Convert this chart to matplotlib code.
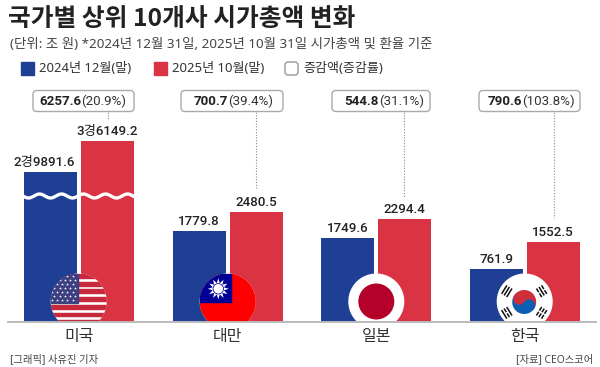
import numpy as np
import matplotlib
matplotlib.use('Agg')
import matplotlib.pyplot as plt
from matplotlib.patches import Circle, Rectangle, Wedge, Polygon, FancyBboxPatch

plt.rcParams['font.family'] = ['Noto Sans', 'Noto Sans CJK KR', 'DejaVu Sans']
NUM_FONT = ['Roboto', 'Noto Sans CJK KR']

countries = ['미국', '대만', '일본', '한국']
cap_2024 = [29891.6, 1779.8, 1749.6, 761.9]
cap_2025 = [36149.2, 2480.5, 2294.4, 1552.5]
delta = [6257.6, 700.7, 544.8, 790.6]
delta_pct = [20.9, 39.4, 31.1, 103.8]

# 원본 막대는 값에 비례하지 않음 - 값과 그려진 높이(px)의 대응
scale_values = [0, 761.9, 1552.5, 1749.6, 1779.8, 2294.4, 2480.5, 29891.6, 36149.2, 45000]
scale_heights = [0, 53, 80, 84, 91, 103, 110, 150, 181, 222]

BLUE = '#1f3f94'
RED = '#d93344'
W, H = 600, 367
BASE = 322
RADIUS = 28


def forward(v):
    return np.interp(v, scale_values, scale_heights)


def inverse(h):
    return np.interp(h, scale_heights, scale_values)


def fmt_value(v):
    if v >= 10000:
        return f'{int(v // 10000)}경{v % 10000:.1f}'
    return f'{v:.1f}'


fig = plt.figure(figsize=(6, 3.67), dpi=100)

# 막대 축
ax = fig.add_axes([0, (H - BASE) / H, 1, 222 / H])
ax.set_yscale('function', functions=(forward, inverse))
ax.set_ylim(0, 45000)
centers = [78.7, 227.7, 376.3, 524.7]
ax.set_xlim(0, W)
ax.axis('off')

bar_w = 53
for i, c in enumerate(centers):
    ax.bar(c - 28.5, cap_2024[i], width=bar_w, color=BLUE)
    ax.bar(c + 28.5, cap_2025[i], width=bar_w, color=RED)
    shift = -6 if i == 0 else 0
    ax.annotate(fmt_value(cap_2024[i]), (c - 28.5 + shift, cap_2024[i]), xytext=(0, 2),
                textcoords='offset points', ha='center', va='bottom', family=NUM_FONT,
                fontsize=9.6, fontweight='medium', color='#222222')
    ax.annotate(fmt_value(cap_2025[i]), (c + 28.5, cap_2025[i]), xytext=(0, 2),
                textcoords='offset points', ha='center', va='bottom', family=NUM_FONT,
                fontsize=9.6, fontweight='medium', color='#222222')

# 픽셀 좌표 오버레이 (제목, 범례, 국기)
ov = fig.add_axes([0, 0, 1, 1], facecolor='none')
ov.set_xlim(0, W)
ov.set_ylim(H, 0)
ov.axis('off')

ov.text(8, 19, '국가별 상위 10개사 시가총액 변화', fontsize=17.8, fontweight='bold',
        family='Noto Sans CJK KR', color='#222222', va='center')
ov.text(10, 44, '(단위: 조 원) *2024년 12월 31일, 2025년 10월 31일 시가총액 및 환율 기준',
        fontsize=9.65, color='#444444', va='center')

# 범례
ov.add_patch(Rectangle((21, 62), 13, 13, color=BLUE))
ov.text(39, 68.5, '2024년 12월(말)', fontsize=9.45, color='#333333', va='center')
ov.add_patch(Rectangle((154, 62), 13, 13, color=RED))
ov.text(172, 68.5, '2025년 10월(말)', fontsize=9.45, color='#333333', va='center')
ov.add_patch(FancyBboxPatch((285, 62), 13, 13, boxstyle='round,pad=0,rounding_size=3',
                            fc='white', ec='#999999', lw=1))
ov.text(303, 68.5, '증감액(증감률)', fontsize=9.4, color='#333333', va='center')

# 증감 박스 + 점선
box_left = [33, 181, 332, 479]
box_right = [134, 283, 430, 580]
text_split = [81, 228, 379, 521.7]
line_x = [107.5, 256, 404, 553.5]
line_end = [120, 188, 197, 218]
for i in range(4):
    ov.plot([line_x[i], line_x[i]], [112, line_end[i]], color='#888888', lw=0.8, ls=(0, (1, 1.5)))
    ov.add_patch(FancyBboxPatch((box_left[i], 90.5), box_right[i] - box_left[i], 21,
                                boxstyle='round,pad=0,rounding_size=4',
                                fc='white', ec='#aaaaaa', lw=1, zorder=3))
    ov.text(text_split[i], 101.5, f'{delta[i]:.1f}', fontsize=9.6, fontweight='bold', family=NUM_FONT,
            color='#222222', ha='right', va='center', zorder=4)
    ov.text(text_split[i], 101.5, f'({delta_pct[i]:.1f}%)', fontsize=9.6, family=NUM_FONT,
            color='#333333', ha='left', va='center', zorder=4)

# 물결 (축 생략 표시)
wx = np.linspace(23, 135, 300)
ov.plot(wx, 196 + 2 * np.sin((wx - 23) * 2 * np.pi / 22), color='white', lw=2.4)

# 기준선
ov.plot([8, 596], [BASE, BASE], color='#bbbbbb', lw=1.4, zorder=6)


def flag_clip(cx):
    t = np.linspace(0, 2 * np.pi, 200)
    cy = BASE - 20.5
    xs = cx + RADIUS * np.cos(t)
    ys = np.minimum(cy + RADIUS * np.sin(t), BASE)
    p = Polygon(np.column_stack([xs, ys]), closed=True, fc='white', ec='none', zorder=4)
    ov.add_patch(p)
    return p, cy


def clipped(artist, clip):
    artist.set_clip_path(clip)
    artist.set_zorder(5)
    return artist


# 미국
cx = centers[0]
clip, cy = flag_clip(cx)
top = cy - RADIUS
for k in range(8):
    ov.add_patch(clipped(Rectangle((cx - RADIUS, top + 0.5 + k * 7.7), 2 * RADIUS, 3.85, color='#c8283c'), clip))
ov.add_patch(clipped(Rectangle((cx - RADIUS, top), RADIUS - 1, 29, color='#3c3f80'), clip))
for r in range(7):
    xs = np.arange(cx - 27 + (r % 2) * 2.6, cx - 1.5, 5.2)
    sc = ov.scatter(xs, np.full_like(xs, top + 2.5 + r * 4), s=4.5, marker='*', color='white', lw=0, zorder=5)
    sc.set_clip_path(clip)

# 대만
cx = centers[1]
clip, cy = flag_clip(cx)
top = cy - RADIUS
ov.add_patch(clipped(Rectangle((cx - RADIUS, top), 2 * RADIUS, 2 * RADIUS, color='#fe0000'), clip))
ov.add_patch(clipped(Rectangle((cx - RADIUS, top), RADIUS + 3.3, 28, color='#000095'), clip))
sun_x, sun_y = cx - 9.4, top + 15.3
ang = np.linspace(0, 2 * np.pi, 24, endpoint=False)
rad = np.where(np.arange(24) % 2 == 0, 10.5, 5.8)
ov.add_patch(Polygon(np.column_stack([sun_x + rad * np.cos(ang), sun_y + rad * np.sin(ang)]),
                     fc='white', ec='none', zorder=5))
ov.add_patch(Circle((sun_x, sun_y), 5.6, fc='#000095', ec='none', zorder=5))
ov.add_patch(Circle((sun_x, sun_y), 4.8, fc='white', ec='none', zorder=5))

# 일본
cx = centers[2]
clip, cy = flag_clip(cx)
ov.add_patch(clipped(Circle((cx, cy), 18, fc='#b5002a', ec='none'), clip))

# 한국
cx = centers[3]
clip, cy = flag_clip(cx)
tc = (cx - 0.5, cy + 0.5)
ov.add_patch(Wedge(tc, 12, 213.7, 393.7, fc='#cd2e3a', ec='none', zorder=5))
ov.add_patch(Wedge(tc, 12, 33.7, 213.7, fc='#0a5fb4', ec='none', zorder=5))
lx, ly = 6 * np.cos(np.radians(33.7)), 6 * np.sin(np.radians(33.7))
ov.add_patch(Circle((tc[0] - lx, tc[1] - ly), 6, fc='#cd2e3a', ec='none', zorder=5))
ov.add_patch(Circle((tc[0] + lx, tc[1] + ly), 6, fc='#0a5fb4', ec='none', zorder=5))
dirs = [(-1, -0.62), (1, -0.62), (-1, 0.62), (1, 0.62)]
patterns = [[0, 0, 0], [1, 0, 1], [0, 1, 0], [1, 1, 1]]
for (dx, dy), pat in zip(dirs, patterns):
    u = np.array([dx, dy]) / np.hypot(dx, dy)
    v = np.array([-u[1], u[0]])
    for j, broken in enumerate(pat):
        m = np.array(tc) + u * (17.5 + j * 3)
        if broken:
            segs = [(-5, -0.7), (0.7, 5)]
        else:
            segs = [(-5, 5)]
        for a, b in segs:
            p0, p1 = m + v * a, m + v * b
            ln, = ov.plot([p0[0], p1[0]], [p0[1], p1[1]], color='#111111', lw=1.1,
                          solid_capstyle='butt', zorder=5)
            ln.set_clip_path(clip)

# 국가명 + 출처
for c, name in zip(centers, countries):
    ov.text(c, 337.5, name, fontsize=11.5, color='#333333', ha='center', va='center')
ov.text(10, 360, '[그래픽] 사유진 기자', fontsize=7.4, color='#444444', va='center')
ov.text(593, 360, '[자료] CEO스코어', fontsize=7.4, color='#444444', ha='right', va='center')

plt.savefig('out.png', dpi=100)
